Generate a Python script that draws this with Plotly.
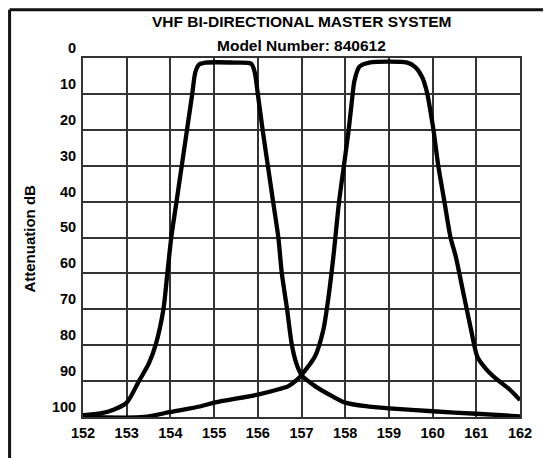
import plotly.graph_objects as go

# Frequency (MHz) and attenuation (dB)
freq_a = [152.0, 152.4, 152.7, 153.0, 153.28, 153.51, 153.66, 153.84, 153.93, 154.02,
          154.14, 154.26, 154.38, 154.5, 154.57, 154.66, 154.8, 155.5, 155.85, 155.93,
          156.0, 156.11, 156.23, 156.35, 156.47, 156.55, 156.67, 156.78, 156.88, 157.0,
          157.31, 157.7, 158.0, 158.47, 159.0, 160.0, 161.0, 162.0]
atten_a = [99.5, 99.0, 98.0, 96.0, 90.0, 85.0, 80.0, 70.0, 60.0, 50.0,
           40.0, 30.0, 20.0, 10.0, 4.0, 1.8, 1.3, 1.3, 1.6, 4.0,
           10.0, 20.0, 30.0, 40.0, 50.0, 60.0, 70.0, 80.0, 85.0, 88.3,
           91.4, 94.2, 96.0, 97.0, 97.6, 98.4, 99.1, 99.8]

freq_b = [152.0, 153.4, 154.0, 154.7, 155.0, 156.0, 156.5, 156.7, 156.9, 157.0,
          157.31, 157.5, 157.62, 157.73, 157.86, 157.97, 158.08, 158.17, 158.21, 158.32,
          158.55, 159.42, 159.6, 159.76, 159.88, 159.95, 160.02, 160.13, 160.27, 160.41,
          160.53, 160.72, 160.88, 161.02, 161.2, 161.43, 161.77, 162.0]
atten_b = [100.0, 100.0, 98.6, 97.0, 96.0, 93.75, 92.2, 91.4, 89.6, 88.3,
           83.1, 75.7, 66.4, 55.3, 40.0, 30.0, 20.0, 10.0, 6.4, 2.5,
           1.3, 1.3, 2.5, 5.3, 10.0, 14.8, 20.0, 30.0, 40.0, 50.0,
           55.3, 66.4, 75.7, 83.1, 86.3, 89.1, 92.4, 95.3]

x_ticks = list(range(152, 163))
y_ticks = list(range(0, 101, 10))

title_text = "VHF BI-DIRECTIONAL MASTER SYSTEM"
subtitle_text = "Model Number: 840612"
y_title = "Attenuation dB"

FONT = "Liberation Sans, Arial, sans-serif"
GRID = "#333333"

fig = go.Figure()
for fx, fy in ((freq_a, atten_a), (freq_b, atten_b)):
    fig.add_trace(go.Scatter(
        x=fx, y=fy, mode="lines",
        line=dict(color="#000000", width=4.3, shape="spline", smoothing=0.7),
        hoverinfo="skip", showlegend=False, cliponaxis=False,
    ))

# page body adds an 8px offset; target screen coordinates are converted below
OFF = 8
W, H = 551, 458
left_s, right_s, top_s, bot_s = 82.5, 520.0, 57.5, 417.5
ml = left_s - OFF
mt = top_s - OFF
mr = W - (right_s - OFF)
mb = H - (bot_s - OFF)
pw, ph = W - ml - mr, H - mt - mb

def px_x(p):
    return (p - OFF - ml) / pw

def px_y(p):
    return (H - mb - (p - OFF)) / ph

fig.update_layout(
    width=W, height=H,
    margin=dict(l=ml, r=mr, t=mt, b=mb, pad=0),
    paper_bgcolor="white", plot_bgcolor="white",
    font=dict(family=FONT, color="#000000"),
    showlegend=False,
    xaxis=dict(
        range=[152, 162], tickvals=x_ticks, ticktext=[str(v) for v in x_ticks],
        showgrid=True, gridcolor=GRID, gridwidth=2,
        showline=True, linecolor=GRID, linewidth=2, mirror=True,
        ticks="", zeroline=False,
        tickfont=dict(family=FONT, size=14.5, weight="bold", color="#000000"),
        ticklabelstandoff=2,
    ),
    yaxis=dict(
        range=[100, 0], tickvals=y_ticks, ticktext=[str(v) for v in y_ticks],
        showgrid=True, gridcolor=GRID, gridwidth=2,
        showline=True, linecolor=GRID, linewidth=2, mirror=True,
        ticks="", zeroline=False, ticklabelposition="outside top",
        tickfont=dict(family=FONT, size=14.5, weight="bold", color="#000000"),
        ticklabelstandoff=2,
    ),
    annotations=[
        dict(text=title_text, xref="paper", yref="paper", x=px_x(301), y=px_y(21),
             xanchor="center", yanchor="middle", showarrow=False,
             font=dict(family=FONT, size=15.5, weight="bold", color="#000000")),
        dict(text=subtitle_text, xref="paper", yref="paper", x=px_x(301), y=px_y(45),
             xanchor="center", yanchor="middle", showarrow=False,
             font=dict(family=FONT, size=15.5, weight="bold", color="#000000")),
        dict(text=y_title, xref="paper", yref="paper", x=px_x(29), y=px_y(239),
             xanchor="center", yanchor="middle", showarrow=False, textangle=-90,
             font=dict(family=FONT, size=15, weight="bold", color="#000000")),
    ],
    shapes=[
        dict(type="line", xref="paper", yref="paper", x0=px_x(9), x1=px_x(570),
             y0=px_y(9), y1=px_y(9), line=dict(color="#111111", width=3)),
        dict(type="line", xref="paper", yref="paper", x0=px_x(9), x1=px_x(9),
             y0=px_y(9), y1=px_y(480), line=dict(color="#111111", width=3)),
    ],
)

fig.write_html("out.html")
